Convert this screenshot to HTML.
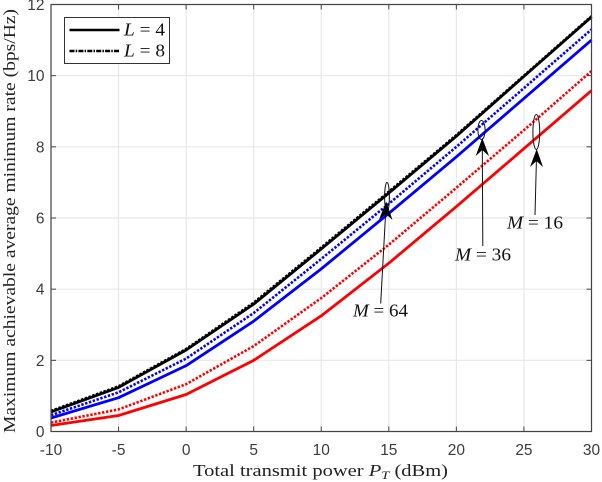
<!DOCTYPE html>
<html>
<head>
<meta charset="utf-8">
<style>
html,body{margin:0;padding:0;background:#fff;width:602px;height:482px;overflow:hidden}
svg{display:block}
.tick{font-family:"Liberation Sans",sans-serif;font-size:15.5px;fill:#3c3c3c}
.lab{font-family:"Liberation Serif",serif;font-size:17px;fill:#222}
.math{font-family:"Liberation Serif",serif;font-size:17.5px;fill:#111}
</style>
</head>
<body>
<svg id="chart" width="602" height="482" viewBox="0 0 602 482" xmlns="http://www.w3.org/2000/svg">
  <g id="grid"></g>
  <g id="series"></g>
  <g id="frame"></g>
  <g id="ticklabels"></g>

  <text class="lab" x="193" y="476" textLength="255" lengthAdjust="spacingAndGlyphs">Total transmit power <tspan font-style="italic">P</tspan><tspan font-style="italic" font-size="12" dy="3">T</tspan><tspan dy="-3"> (dBm)</tspan></text>
  <text class="lab" transform="translate(15,433) rotate(-90)" x="0" y="0" textLength="424" lengthAdjust="spacingAndGlyphs">Maximum achievable average minimum rate (bps/Hz)</text>

  <g>
    <rect x="64.5" y="17.5" width="105" height="46" fill="#fff" stroke="#333" stroke-width="1"/>
    <line x1="69.5" y1="30" x2="119.5" y2="30" stroke="#000" stroke-width="2.5"/>
    <text class="math" x="124" y="35.5" textLength="41" lengthAdjust="spacingAndGlyphs"><tspan font-style="italic">L</tspan> = 4</text>
    <line x1="69.5" y1="51" x2="119.5" y2="51" stroke="#000" stroke-width="2.5" stroke-dasharray="5 1.2 1.5 1.2"/>
    <text class="math" x="124" y="56.5" textLength="41" lengthAdjust="spacingAndGlyphs"><tspan font-style="italic">L</tspan> = 8</text>
  </g>

  <g fill="none" stroke="#111" stroke-width="1">
    <ellipse cx="387" cy="197" rx="2.4" ry="14.5"/>
    <ellipse cx="481.5" cy="130" rx="3.6" ry="9.5"/>
    <ellipse cx="536.3" cy="132" rx="3.4" ry="17.5"/>
    <line x1="380.7" y1="303.5" x2="385.8" y2="210"/>
    <path d="M386.2 201.5 L392.5 220 L386 214 L379 219.5 Z" fill="#000" stroke="none"/>
    <line x1="482.8" y1="246" x2="482.3" y2="146"/>
    <path d="M482.3 138 L489 156 L482.3 150 L475.7 156 Z" fill="#000" stroke="none"/>
    <line x1="535" y1="215" x2="536.5" y2="157"/>
    <path d="M536.7 149 L543 167 L536.5 161 L530 167 Z" fill="#000" stroke="none"/>
  </g>
  <text class="math" x="353" y="316.5" textLength="55" lengthAdjust="spacingAndGlyphs"><tspan font-style="italic">M</tspan> = 64</text>
  <text class="math" x="455" y="260.5" textLength="56" lengthAdjust="spacingAndGlyphs"><tspan font-style="italic">M</tspan> = 36</text>
  <text class="math" x="507" y="228.5" textLength="56" lengthAdjust="spacingAndGlyphs"><tspan font-style="italic">M</tspan> = 16</text>
</svg>
<script>
var powerDbm = [-10, -5, 0, 5, 10, 15, 20, 25, 30];
var xTickLabels = [-10, -5, 0, 5, 10, 15, 20, 25, 30];
var yTickLabels = [0, 2, 4, 6, 8, 10, 12];
var blackL4 = [0.55, 1.24, 2.29, 3.58, 5.13, 6.70, 8.30, 9.98, 11.65];
var blackL8 = [0.58, 1.27, 2.32, 3.62, 5.17, 6.74, 8.33, 10.00, 11.67];
var blueL4 = [0.38, 0.95, 1.85, 3.10, 4.57, 6.13, 7.72, 9.36, 11.00];
var blueL8 = [0.46, 1.10, 2.05, 3.33, 4.85, 6.40, 8.00, 9.65, 11.30];
var redL4 = [0.17, 0.45, 1.04, 2.00, 3.25, 4.73, 6.32, 7.95, 9.58];
var redL8 = [0.25, 0.62, 1.33, 2.40, 3.75, 5.25, 6.85, 8.47, 10.13];

var NS = 'http://www.w3.org/2000/svg';
var plotLeft = 51, plotRight = 591.5, plotTop = 4.5, plotBottom = 431.5;
function xScale(v) { return plotLeft + (v + 10) / 40 * (plotRight - plotLeft); }
function yScale(v) { return plotBottom - v / 12 * (plotBottom - plotTop); }
function attrs(el, o) { for (var k in o) { el.setAttribute(k, o[k]); } return el; }

var grid = document.getElementById('grid');
var frame = document.getElementById('frame');
var tickLabelsGroup = document.getElementById('ticklabels');
var seriesGroup = document.getElementById('series');

xTickLabels.forEach(function (t) {
  var x = xScale(t);
  var g = attrs(document.createElementNS(NS, 'line'), {x1: x, x2: x, y1: plotTop, y2: plotBottom, stroke: '#e8e8e8', 'stroke-width': 1.2});
  
  
  grid.appendChild(g);
  [[plotBottom, plotBottom - 5], [plotTop, plotTop + 5]].forEach(function (p) {
    var m = attrs(document.createElementNS(NS, 'line'), {x1: x, x2: x, y1: p[0], y2: p[1], stroke: '#444', 'stroke-width': 1});
    
    
    frame.appendChild(m);
  });
  var l = attrs(document.createElementNS(NS, 'text'), {x: x, y: 455, 'text-anchor': 'middle', 'class': 'tick'});
  l.textContent = t;
  
  
  tickLabelsGroup.appendChild(l);
});

yTickLabels.forEach(function (t) {
  var y = yScale(t);
  var g = attrs(document.createElementNS(NS, 'line'), {x1: plotLeft, x2: plotRight, y1: y, y2: y, stroke: '#e8e8e8', 'stroke-width': 1.2});
  
  
  grid.appendChild(g);
  [[plotLeft, plotLeft + 5], [plotRight, plotRight - 5]].forEach(function (p) {
    var m = attrs(document.createElementNS(NS, 'line'), {x1: p[0], x2: p[1], y1: y, y2: y, stroke: '#444', 'stroke-width': 1});
    
    
    frame.appendChild(m);
  });
  var l = attrs(document.createElementNS(NS, 'text'), {x: 44.5, y: y + 5.5, 'text-anchor': 'end', 'class': 'tick'});
  l.textContent = t;
  
  
  tickLabelsGroup.appendChild(l);
});

var border = attrs(document.createElementNS(NS, 'rect'), {x: plotLeft, y: plotTop, width: plotRight - plotLeft, height: plotBottom - plotTop, fill: 'none', stroke: '#444', 'stroke-width': 1.2});


frame.appendChild(border);

function drawSeries(values, color, dotted, name) {
  var d = values.map(function (v, i) {
    return (i ? 'L' : 'M') + xScale(powerDbm[i]).toFixed(2) + ' ' + yScale(v).toFixed(2);
  }).join(' ');
  var p = attrs(document.createElementNS(NS, 'path'), {d: d, fill: 'none', stroke: color, 'stroke-width': dotted ? 2.6 : 2.8, 'stroke-linejoin': 'round'});
  if (dotted) { p.setAttribute('stroke-dasharray', '2.4 1.6'); }
  
  
  seriesGroup.appendChild(p);
}
drawSeries(redL4, '#ff0000', false, 'series-m16-l4');
drawSeries(redL8, '#ff0000', true, 'series-m16-l8');
drawSeries(blueL4, '#0000ff', false, 'series-m36-l4');
drawSeries(blueL8, '#0000ff', true, 'series-m36-l8');
drawSeries(blackL8, '#000000', true, 'series-m64-l8');
drawSeries(blackL4, '#000000', false, 'series-m64-l4');
</script>
</body>
</html>
